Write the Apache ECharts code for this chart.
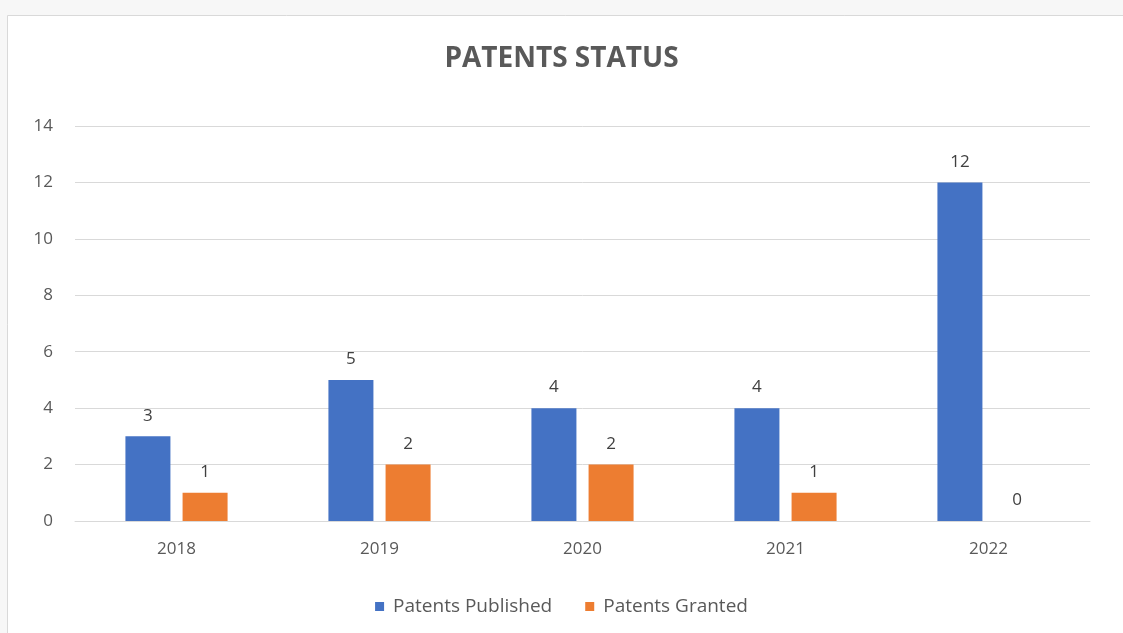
<!DOCTYPE html>
<html><head><meta charset="utf-8">
<script src="https://cdn.jsdelivr.net/npm/echarts@6/dist/echarts.min.js"></script>
<style>html,body{margin:0;padding:0;background:#f7f7f7}#c{width:1123px;height:633px}</style>
</head><body><div id="c"></div>
<script>
const categories = ['2018', '2019', '2020', '2021', '2022'];
const published = [3, 5, 4, 4, 12];
const granted = [1, 2, 2, 1, 0];
const yTicks = { min: 0, max: 14, interval: 2 };

const chart = echarts.init(document.getElementById('c'));
const font = '"Open Sans", "Noto Sans", sans-serif';
const label = { show: true, position: 'top', distance: 12, color: '#404040', fontSize: 17, fontFamily: font };
chart.setOption({
  backgroundColor: '#f7f7f7',
  animation: false,
  graphic: [{ type: 'rect', z: -10, shape: { x: 7.5, y: 15.5, width: 1130, height: 640 },
    style: { fill: '#ffffff', stroke: '#d9d9d9', lineWidth: 1 } }],
  title: { text: 'PATENTS STATUS', left: 'center', top: 40,
    textStyle: { color: '#595959', fontSize: 28, fontWeight: 'bold', fontFamily: font } },
  legend: { bottom: 12, left: 'center', itemWidth: 9, itemHeight: 9, itemGap: 33,
    icon: 'rect', textStyle: { color: '#595959', fontSize: 19, fontFamily: font, padding: [0, 0, 0, 4] },
    data: ['Patents Published', 'Patents Granted'] },
  grid: { left: 75, right: 33, top: 126, bottom: 112 },
  xAxis: { type: 'category', data: categories,
    axisLine: { lineStyle: { color: '#d9d9d9' } }, axisTick: { show: false },
    axisLabel: { color: '#595959', fontSize: 17, fontFamily: font, margin: 20 } },
  yAxis: { type: 'value', min: yTicks.min, max: yTicks.max, interval: yTicks.interval,
    axisLine: { show: false }, axisTick: { show: false },
    splitLine: { lineStyle: { color: '#d9d9d9' } },
    axisLabel: { color: '#595959', fontSize: 17, fontFamily: font, margin: 22 } },
  series: [
    { name: 'Patents Published', type: 'bar', data: published, barWidth: 45, barGap: '27%',
      itemStyle: { color: '#4472c4' }, label: label },
    { name: 'Patents Granted', type: 'bar', data: granted, barWidth: 45,
      itemStyle: { color: '#ed7d31' }, label: label }
  ]
});
</script></body></html>
